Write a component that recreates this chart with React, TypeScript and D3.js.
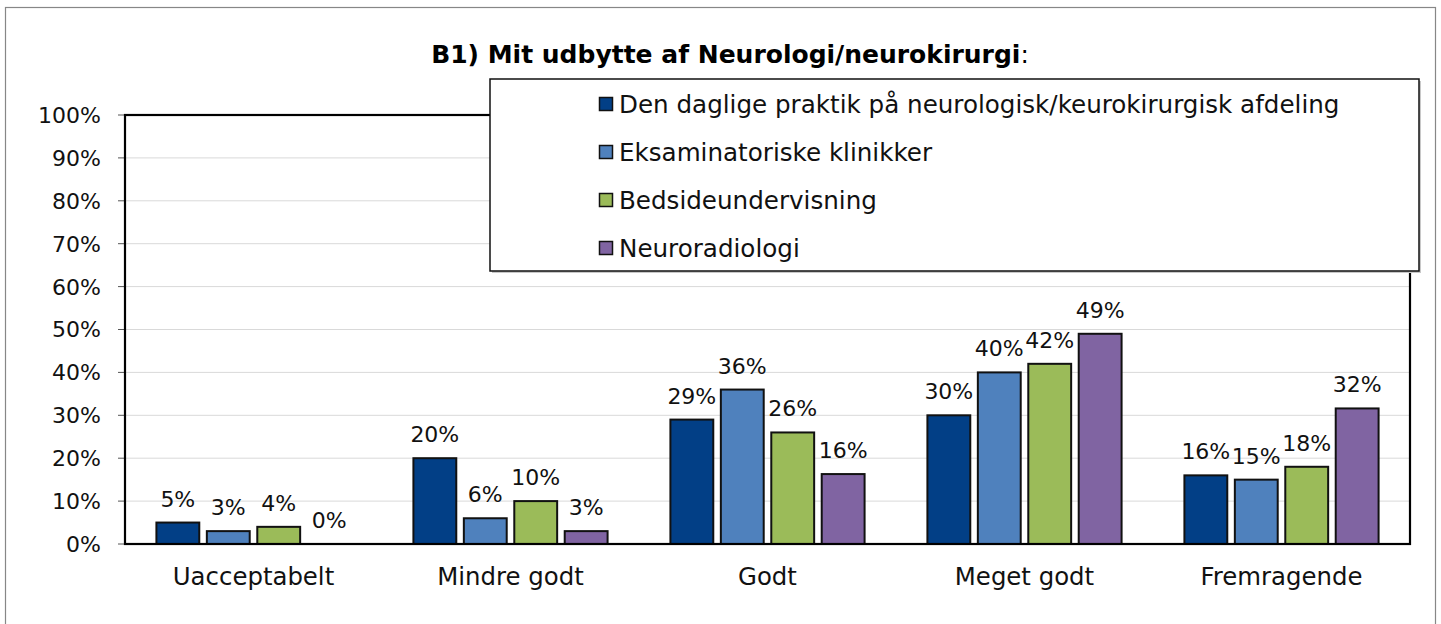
import React from "react";
import * as d3 from "d3";

// categories + series
const categories = ["Uacceptabelt", "Mindre godt", "Godt", "Meget godt", "Fremragende"];
const seriesNames = [
  "Den daglige praktik på neurologisk/keurokirurgisk afdeling",
  "Eksaminatoriske klinikker",
  "Bedsideundervisning",
  "Neuroradiologi",
];
const seriesColors = ["#023f86", "#4f81bd", "#9bbb59", "#8064a2"];
const praktik = [5, 20, 29, 30, 16];
const klinikker = [3, 6, 36, 40, 15];
const bedside = [4, 10, 26, 42, 18];
const neuroradiologi = [0, 3, 16.3, 49, 31.6];
const yTicks = [0, 10, 20, 30, 40, 50, 60, 70, 80, 90, 100];

const title = "B1) Mit udbytte af Neurologi/neurokirurgi";
const font = "'Century Gothic', 'DejaVu Sans', sans-serif";

const W = 1441;
const H = 624;
const plot = { left: 125, top: 115, right: 1410, bottom: 544 };

export default function App() {
  const series = [praktik, klinikker, bedside, neuroradiologi];

  const x0 = d3.scaleBand<string>()
    .domain(categories)
    .range([plot.left, plot.right])
    .paddingInner(0.215)
    .paddingOuter(0.1075);

  const x1 = d3.scaleBand<number>()
    .domain(d3.range(series.length))
    .range([0, x0.bandwidth()])
    .paddingInner(0.15)
    .paddingOuter(0.075);

  const y = d3.scaleLinear().domain([0, 100]).range([plot.bottom, plot.top]);
  const pct = (v: number) => `${Math.round(v)}%`;

  const legendRows = seriesNames.map((name, i) => ({ name, color: seriesColors[i], cy: 104 + i * 48 }));

  return (
    <svg width={W} height={H} style={{ position: "absolute", left: 0, top: 0, background: "#fff" }}>
      {/* outer chart border */}
      <rect x={5.5} y={7.5} width={1430} height={640} fill="none" stroke="#878787" strokeWidth={1.2} />

      {/* gridlines */}
      {yTicks.filter(t => t > 0 && t < 100).map(t => (
        <line key={"g" + t} x1={plot.left} x2={plot.right} y1={y(t)} y2={y(t)} stroke="#d9d9d9" strokeWidth={1} />
      ))}

      {/* y ticks + labels */}
      {yTicks.map(t => (
        <g key={"t" + t}>
          <line x1={118} x2={plot.left} y1={y(t)} y2={y(t)} stroke="#555" strokeWidth={1} />
          <text x={101} y={y(t)} dy="0.36em" textAnchor="end" fontFamily={font} fontSize={22} fill="#111">
            {t}%
          </text>
        </g>
      ))}

      {/* bars */}
      {categories.map((c, ci) => (
        <g key={c} transform={`translate(${x0(c)},0)`}>
          {series.map((s, si) => {
            const v = s[ci];
            const bx = x1(si)!;
            return (
              <g key={si}>
                {v > 0 && (
                  <rect
                    x={bx}
                    y={y(v)}
                    width={x1.bandwidth()}
                    height={y(0) - y(v)}
                    fill={seriesColors[si]}
                    stroke="#111"
                    strokeWidth={2}
                  />
                )}
                <text
                  x={bx + x1.bandwidth() / 2}
                  y={y(v) - 16}
                  textAnchor="middle"
                  fontFamily={font}
                  fontSize={22}
                  fill="#111"
                >
                  {pct(v)}
                </text>
              </g>
            );
          })}
          <text
            x={x0.bandwidth() / 2}
            y={585}
            textAnchor="middle"
            fontFamily={font}
            fontSize={24.4}
            fill="#111"
          >
            {c}
          </text>
        </g>
      ))}

      {/* plot frame */}
      <rect
        x={plot.left}
        y={plot.top}
        width={plot.right - plot.left}
        height={plot.bottom - plot.top}
        fill="none"
        stroke="#000"
        strokeWidth={2.2}
      />

      {/* title */}
      <text x={730} y={63} textAnchor="middle" fontFamily={font} fontSize={25} fill="#000">
        <tspan fontWeight="bold">{title}</tspan>
        <tspan>:</tspan>
      </text>

      {/* legend */}
      <g>
        <rect x={492} y={81} width={929} height={192} fill="#c8c8c8" />
        <rect x={490} y={79} width={929} height={192} fill="#fff" stroke="#111" strokeWidth={1.5} />
        {legendRows.map(r => (
          <g key={r.name}>
            <rect x={599.5} y={r.cy - 6.5} width={13} height={13} fill={r.color} stroke="#111" strokeWidth={1.5} />
            <text x={619} y={r.cy} dy="0.36em" fontFamily={font} fontSize={24.6} fill="#111">
              {r.name}
            </text>
          </g>
        ))}
      </g>
    </svg>
  );
}
